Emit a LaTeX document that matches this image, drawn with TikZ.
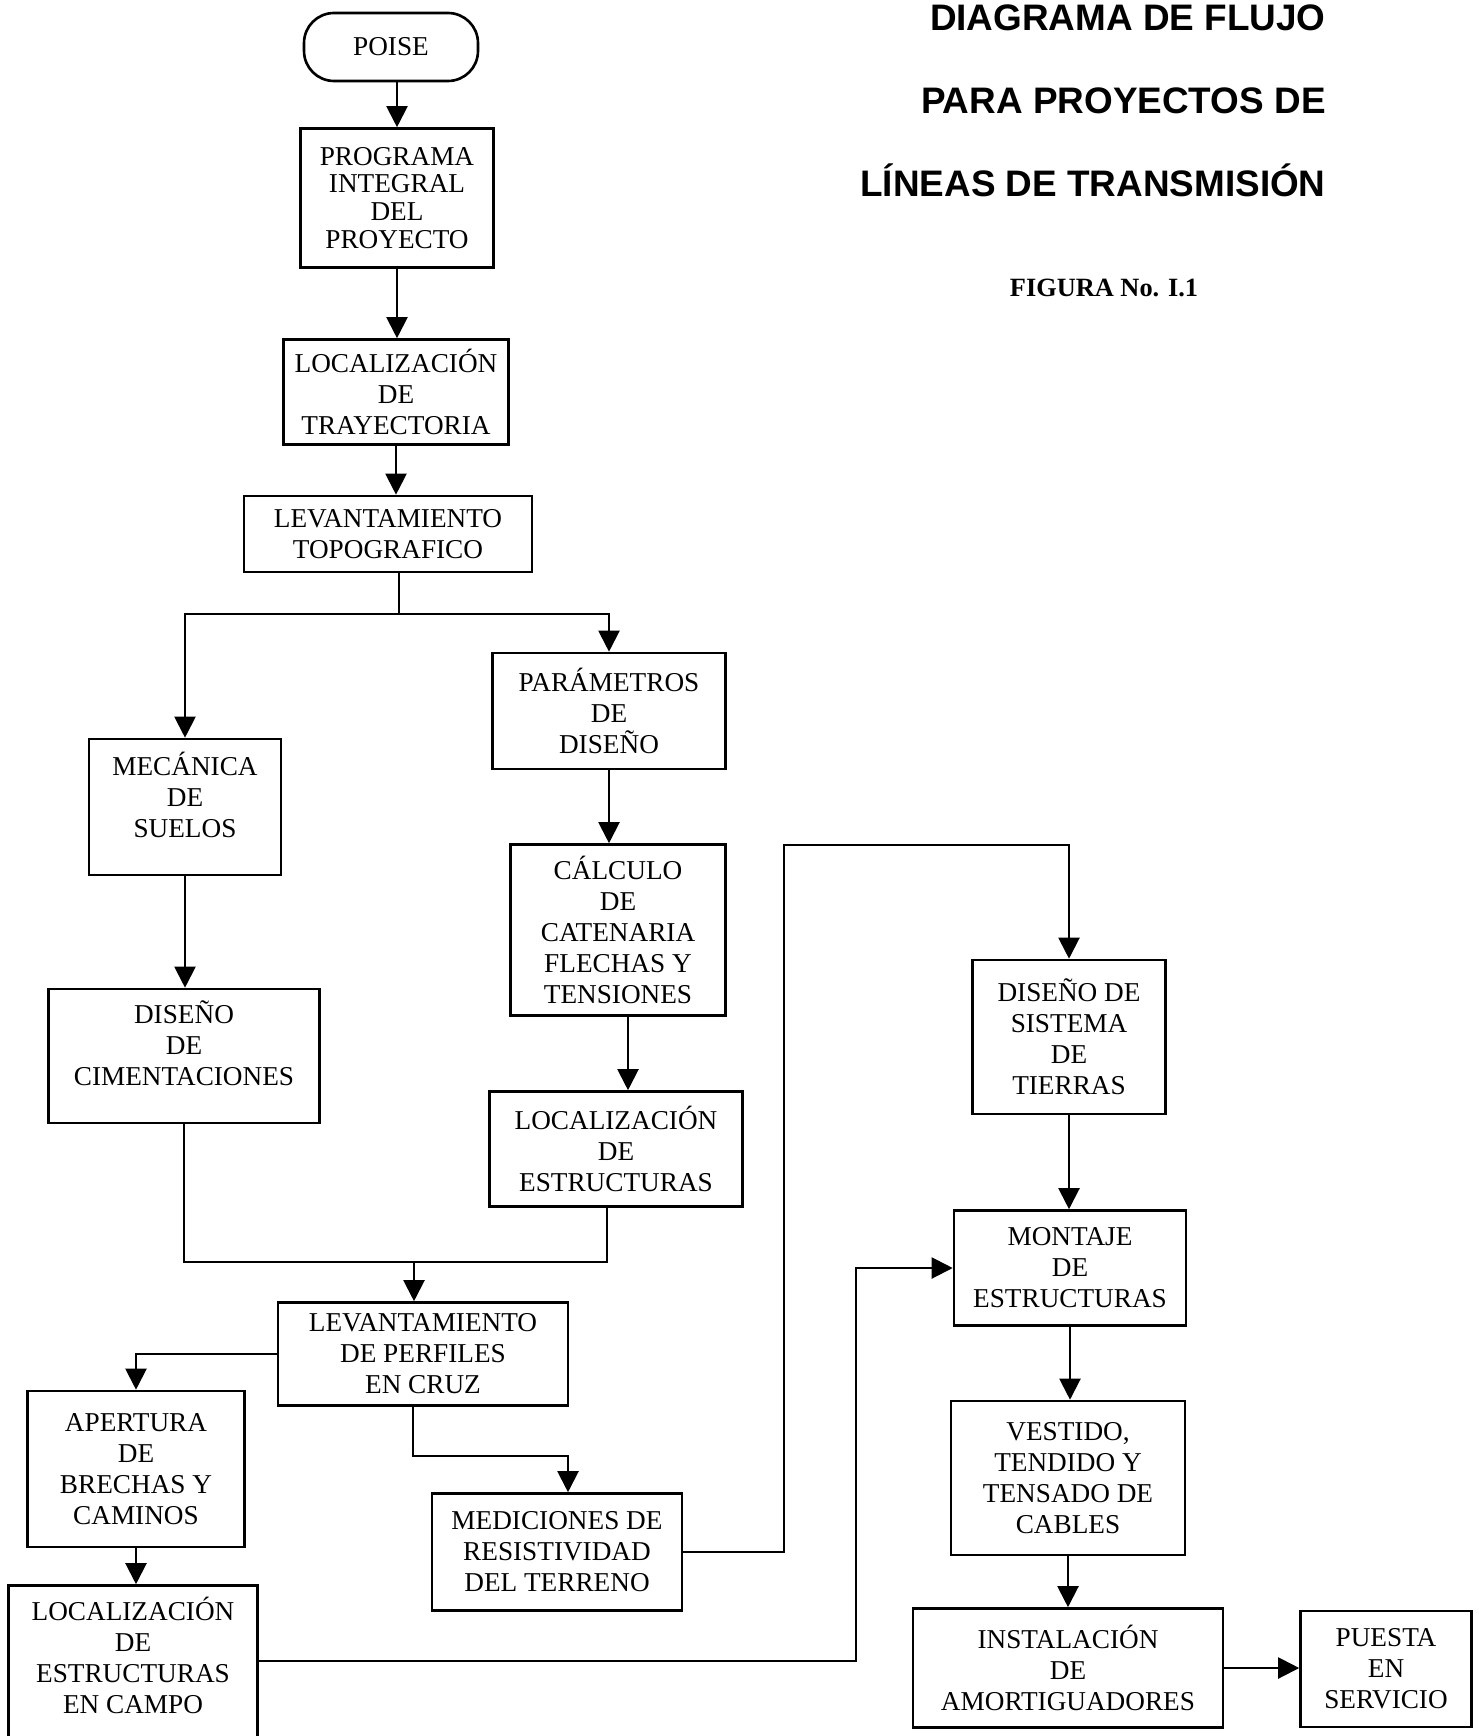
\documentclass[tikz,border=0pt]{standalone}
\usepackage{fontspec}
\setmainfont{Liberation Serif}
\newfontfamily\titulofont{Liberation Sans}
\usepackage{tikz}
\usetikzlibrary{arrows.meta,positioning,calc}

\begin{document}
\begin{tikzpicture}[
  x=0.02cm, y=-0.02cm,
  texto/.style={align=center, font=\fontsize{15.5}{17.6}\selectfont},
  inicio/.style={texto, rectangle, draw=black, line width=1.5pt, rounded corners=0.6cm, minimum width=3.48cm, minimum height=1.36cm},
  proceso/.style={texto, rectangle, draw=black, line width=1.5pt, inner sep=2pt},
  flecha/.style={-{Triangle[length=12pt,width=12pt]}, line width=1.2pt},
  linea/.style={line width=1.2pt},
  titulo/.style={anchor=base east, inner sep=0pt, font=\titulofont\bfseries\fontsize{21}{25}\selectfont},
  figura/.style={anchor=base, inner sep=0pt, font=\bfseries\fontsize{15}{18}\selectfont}
]
  \useasboundingbox (0,0) rectangle (1478,1736);
  \clip (0,0) rectangle (1478,1736);

  % titulo
  \node[titulo] (tit1) at (1326,31) {DIAGRAMA DE FLUJO};
  \node[titulo] (tit2) at (1326,114) {PARA PROYECTOS DE};
  \node[titulo] (tit3) at (1326,197) {LÍNEAS DE TRANSMISIÓN};
  \node[figura] (fig) at (1104,297) {FIGURA No. I.1};

  % columna central
  \node[inicio] (poise) at (391,47) {POISE};
  \node[proceso, font=\fontsize{15.5}{15.8}\selectfont, minimum width=3.86cm, minimum height=2.78cm] (prog) at (397,198) {PROGRAMA\\INTEGRAL\\DEL\\PROYECTO};
  \node[proceso, minimum width=4.5cm, minimum height=2.1cm] (loctray) at (396,392) {LOCALIZACIÓN\\DE\\TRAYECTORIA};
  \node[proceso, minimum width=5.76cm, minimum height=1.52cm] (levtopo) at (388,534) {LEVANTAMIENTO\\TOPOGRAFICO};

  % ramas
  \node[proceso, minimum width=4.66cm, minimum height=2.32cm] (param) at (609,711) {PARÁMETROS\\DE\\DISEÑO};
  \node[proceso, minimum width=3.84cm, minimum height=2.72cm,
    label={[texto, yshift=0.24cm]center:MECÁNICA\\DE\\SUELOS}] (mec) at (185,807) {};
  \node[proceso, minimum width=5.42cm, minimum height=2.68cm,
    label={[texto, yshift=0.26cm]center:DISEÑO\\DE\\CIMENTACIONES}] (dcim) at (184,1056) {};
  \node[proceso, minimum width=4.3cm, minimum height=3.42cm] (calc) at (618,930) {CÁLCULO\\DE\\CATENARIA\\FLECHAS Y\\TENSIONES};
  \node[proceso, minimum width=5.06cm, minimum height=2.3cm] (locest) at (616,1149) {LOCALIZACIÓN\\DE\\ESTRUCTURAS};
  \node[proceso, minimum width=5.8cm, minimum height=2.06cm] (levperf) at (423,1354) {LEVANTAMIENTO\\DE PERFILES\\EN CRUZ};
  \node[proceso, minimum width=4.34cm, minimum height=3.12cm] (apert) at (136,1469) {APERTURA\\DE\\BRECHAS Y\\CAMINOS};
  \node[proceso, minimum width=4.98cm, minimum height=3.9cm,
    label={[texto, yshift=0.55cm]center:LOCALIZACIÓN\\DE\\ESTRUCTURAS\\EN CAMPO}] (campo) at (133,1683) {};
  \node[proceso, minimum width=5cm, minimum height=2.34cm] (med) at (557,1552) {MEDICIONES DE\\RESISTIVIDAD\\DEL TERRENO};

  % columna derecha
  \node[proceso, minimum width=3.86cm, minimum height=3.08cm] (disist) at (1069,1037) {DISEÑO DE\\SISTEMA\\DE\\TIERRAS};
  \node[proceso, minimum width=4.64cm, minimum height=2.3cm] (mont) at (1070,1268) {MONTAJE\\DE\\ESTRUCTURAS};
  \node[proceso, minimum width=4.68cm, minimum height=3.08cm] (vest) at (1068,1478) {VESTIDO,\\TENDIDO Y\\TENSADO DE\\CABLES};
  \node[proceso, minimum width=6.2cm, minimum height=2.38cm] (inst) at (1068,1668) {INSTALACIÓN\\DE\\AMORTIGUADORES};
  \node[proceso, minimum width=3.42cm, minimum height=2.32cm] (puesta) at (1386,1669) {PUESTA\\EN\\SERVICIO};

  % puntos de quiebre
  \coordinate (bif) at (399,614);
  \coordinate (bajada) at (628,1050);
  \coordinate (union) at (414,1262);
  \coordinate (union2) at (607,1262);
  \coordinate (cruce) at (413,1456);
  \coordinate (cruce2) at (568,1456);
  \coordinate (ret1) at (784,845);
  \coordinate (ret2) at (856,1661);

  \draw[flecha] (poise.south -| prog.north) -- (prog.north);
  \draw[flecha] (prog.south) -- (prog.south |- loctray.north);
  \draw[flecha] (loctray.south) -- (loctray.south |- levtopo.north);
  \draw[linea] (bif |- levtopo.south) -- (bif);
  \draw[flecha] (bif) -| (mec.north);
  \draw[flecha] (bif) -| (param.north);
  \draw[flecha] (param.south) -- (param.south |- calc.north);
  \draw[flecha] (mec.south) -- (mec.south |- dcim.north);
  \draw[flecha] (bajada |- calc.south) -- (bajada |- locest.north);
  \draw[linea] (dcim.south) |- (union2) -- (union2 |- locest.south);
  \draw[flecha] (union) -- (union |- levperf.north);
  \draw[flecha] (levperf.west) -| (apert.north);
  \draw[flecha] (apert.south) -- (apert.south |- campo.north);
  \draw[flecha] (cruce |- levperf.south) -- (cruce) -- (cruce2) -- (cruce2 |- med.north);
  \draw[flecha] (med.east) -| (ret1) -| (disist.north);
  \draw[flecha] (disist.south) -- (disist.south |- mont.north);
  \draw[flecha] (ret2 -| campo.east) -- (ret2) |- (mont.west);
  \draw[flecha] (mont.south) -- (mont.south |- vest.north);
  \draw[flecha] (vest.south) -- (vest.south |- inst.north);
  \draw[flecha] (inst.east) -- (inst.east -| puesta.west);
\end{tikzpicture}
\end{document}
